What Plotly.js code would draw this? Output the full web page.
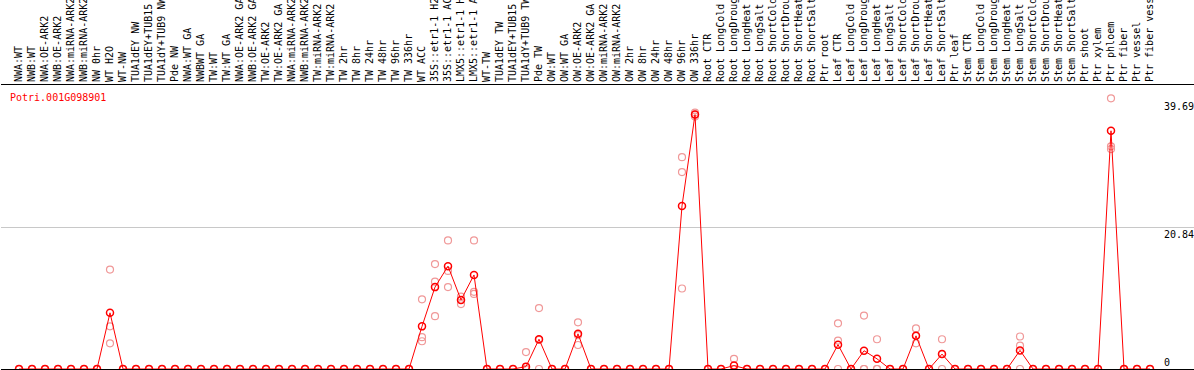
<!DOCTYPE html>
<html>
<head>
<meta charset="utf-8">
<script src="https://cdn.plot.ly/plotly-3.0.1.min.js"></script>
<style>html,body{margin:0;padding:0;background:#fff;overflow:hidden}#chart{width:1194px;height:370px}</style>
</head>
<body>
<div id="chart"></div>
<script>
const geneId = 'Potri.001G098901';

const categories = [
  'NWA:WT','NWB:WT','NWA:OE-ARK2','NWB:OE-ARK2','NWA:miRNA-ARK2','NWB:miRNA-ARK2','NW 0hr','WT H2O','WT-NW',
  'TUA1dEY NW','TUA1dEY+TUB15 NW','TUA1dY+TUB9 NW','Pde NW',
  'NWA:WT GA','NWBWT GA','TW:WT','TW:WT GA','NWA:OE-ARK2 GA','NWB:OE-ARK2 GA','TW:OE-ARK2','TW:OE-ARK2 GA',
  'NWA:miRNA-ARK2 GA','NWB:miRNA-ARK2 GA','TW:miRNA-ARK2','TW:miRNA-ARK2 GA','TW 2hr','TW 8hr','TW 24hr','TW 48hr',
  'TW 96hr','TW 336hr','WT ACC','35S::etr1-1 H2O','35S::etr1-1 ACC','LMX5::etr1-1 H2O','LMX5::etr1-1 ACC','WT-TW',
  'TUA1dEY TW','TUA1dEY+TUB15 TW','TUA1dY+TUB9 TW','Pde TW',
  'OW:WT','OW:WT GA','OW:OE-ARK2','OW:OE-ARK2 GA','OW:miRNA-ARK2','OW:miRNA-ARK2 GA','OW 2hr','OW 8hr','OW 24hr',
  'OW 48hr','OW 96hr','OW 336hr',
  'Root CTR','Root LongCold','Root LongDrought','Root LongHeat','Root LongSalt','Root ShortCold','Root ShortDrought',
  'Root ShortHeat','Root ShortSalt','Ptr root',
  'Leaf CTR','Leaf LongCold','Leaf LongDrought','Leaf LongHeat','Leaf LongSalt','Leaf ShortCold','Leaf ShortDrought',
  'Leaf ShortHeat','Leaf ShortSalt','Ptr leaf',
  'Stem CTR','Stem LongCold','Stem LongDrought','Stem LongHeat','Stem LongSalt','Stem ShortCold','Stem ShortDrought',
  'Stem ShortHeat','Stem ShortSalt','Ptr shoot','Ptr xylem',
  'Ptr phloem','Ptr fiber','Ptr vessel','Ptr fiber vessel'
];

// last category of each sample group (a separator line follows each)
const groupEnds = ['Pde NW','Pde TW','OW 336hr','Ptr root','Ptr leaf','Ptr xylem','Ptr phloem','Ptr fiber','Ptr vessel','Ptr fiber vessel'];

const meanValues = [
  0,0,0,0,0,0,0,8.3,0,0,
  0,0,0,0,0,0,0,0,0,0,
  0,0,0,0,0,0,0,0,0,0,
  0,6.3,12.1,15.2,10.2,13.9,0,0,0,0.35,
  4.4,0,0,5.2,0,0,0,0,0,0,
  0,24.1,37.6,0,0,0.5,0,0,0,0,
  0,0,0,3.6,0,2.7,1.5,0,0,4.9,
  0,2.2,0,0,0,0,0,2.75,0,0,
  0,0,0,0,35.2,0,0,0
];
const rep1 = [
  0,0,0,0,0,0,0,14.7,0,0,
  0,0,0,0,0,0,0,0,0,0,
  0,0,0,0,0,0,0,0,0,0,
  0,10.3,15.5,19.0,10.7,19.0,0,0,0,2.5,
  9.0,0,0,6.9,0,0,0,0,0,0,
  0,31.3,37.9,0,0,1.5,0,0,0,0,
  0,0,0,6.75,0,7.9,4.4,0,0,6.0,
  0,4.4,0,0,0,0,0,4.8,0,0,
  0,0,0,0,40.0,0,0,0
];
const rep2 = [
  0,0,0,0,0,0,0,6.3,0,0,
  0,0,0,0,0,0,0,0,0,0,
  0,0,0,0,0,0,0,0,0,0,
  0,4.7,12.9,14.5,10.2,11.4,0,0,0,0,
  4.3,0,0,5.0,0,0,0,0,0,0,
  0,29.1,37.6,0,0,0,0,0,0,0,
  0,0,0,4.2,0,0,0,0,0,4.9,
  0,2.2,0,0,0,0,0,3.45,0,0,
  0,0,0,0,32.9,0,0,0
];
const rep3 = [
  0,0,0,0,0,0,0,3.8,0,0,
  0,0,0,0,0,0,0,0,0,0,
  0,0,0,0,0,0,0,0,0,0,
  0,4.1,7.8,12.1,9.6,11.1,0,0,0,0,
  0,0,0,3.55,0,0,0,0,0,0,
  0,11.9,37.3,0,0,0,0,0,0,0,
  0,0,0,0,0,0,0,0,0,3.8,
  0,0,0,0,0,0,0,0,0,0,
  0,0,0,0,32.5,0,0,0
];

const yTickVals = [0, 20.84, 39.69];
const yTickText = ['0', '20.84', '39.69'];
const yGridVals = [20.84];
const yMax = 41.97;

// ---- build ----
const FONT = 'DejaVu Sans Mono, Liberation Mono, monospace';
const W = 1194, H = 370;
const mL = 1, mR = 0, mT = 0, mB = 1;
const plotW = W - mL - mR, plotH = H - mT - mB;
const step = 13, firstPx = 19;  // px per category, px of first category
const xRange = [(mL - firstPx) / step, (W - mR - firstPx) / step];
const labelTopPx = 85;          // top of data area
const sepShift = 0.42;

const separators = [-1].concat(groupEnds.map(n => categories.indexOf(n))).map(i => i + sepShift);

const repX = categories.concat(categories, categories);
const repY = rep1.concat(rep2, rep3);

const traces = [
  {
    type: 'scatter', mode: 'markers', x: repX, y: repY, xaxis: 'x2', yaxis: 'y2',
    marker: {symbol: 'circle-open', size: 7, color: '#f09898', line: {width: 1.2}},
    hoverinfo: 'skip'
  },
  {
    type: 'scatter', mode: 'lines+markers', x: categories, y: meanValues, xaxis: 'x2', yaxis: 'y2',
    line: {color: '#ff0000', width: 1},
    marker: {symbol: 'circle-open', size: 7, color: '#ff0000', line: {width: 1.5}}
  }
];

const annotations = yTickVals.map((v, i) => ({
  xref: 'paper', yref: 'y2', x: (1163 - mL) / plotW, y: v,
  xanchor: 'left', yanchor: v === 0 ? 'bottom' : 'top',
  text: yTickText[i], showarrow: false, borderpad: 0,
  font: {family: FONT, size: 10, color: '#000'}
}));

const layout = {
  width: W, height: H,
  margin: {l: mL, r: mR, t: mT, b: mB, pad: 0},
  paper_bgcolor: '#fff', plot_bgcolor: '#fff',
  showlegend: false,
  font: {family: FONT, size: 10, color: '#000'},
  title: {
    text: geneId, font: {family: FONT, size: 10, color: '#ff0000'},
    xref: 'container', yref: 'container', x: 10 / W, xanchor: 'left',
    y: 1 - 97 / H, yanchor: 'middle', pad: {t: 0, b: 0, l: 0, r: 0}
  },
  xaxis: {
    range: xRange, tickvals: separators, showgrid: true, gridcolor: '#c8c8c8', gridwidth: 1,
    showticklabels: false, ticks: '', zeroline: false, showline: false, fixedrange: true
  },
  yaxis: {
    domain: [0, 1], range: [0, 1], showgrid: false, showticklabels: false, ticks: '',
    zeroline: false, showline: true, linecolor: '#000', linewidth: 1, fixedrange: true
  },
  xaxis2: {
    anchor: 'y2', type: 'category', range: xRange, side: 'top', tickangle: -90, ticks: '',
    showgrid: false, showline: true, mirror: true, linecolor: '#000', linewidth: 1,
    tickfont: {family: FONT, size: 10, color: '#000'}, automargin: false, fixedrange: true
  },
  yaxis2: {
    anchor: 'x2', domain: [0, (plotH - labelTopPx + mT) / plotH], range: [0, yMax],
    tickvals: yGridVals, showticklabels: false, showgrid: true, gridcolor: '#c8c8c8', gridwidth: 1,
    zeroline: false, ticks: '', showline: false, fixedrange: true
  },
  annotations: annotations
};

Plotly.newPlot('chart', traces, layout, {displayModeBar: false, staticPlot: true});
</script>
</body>
</html>
